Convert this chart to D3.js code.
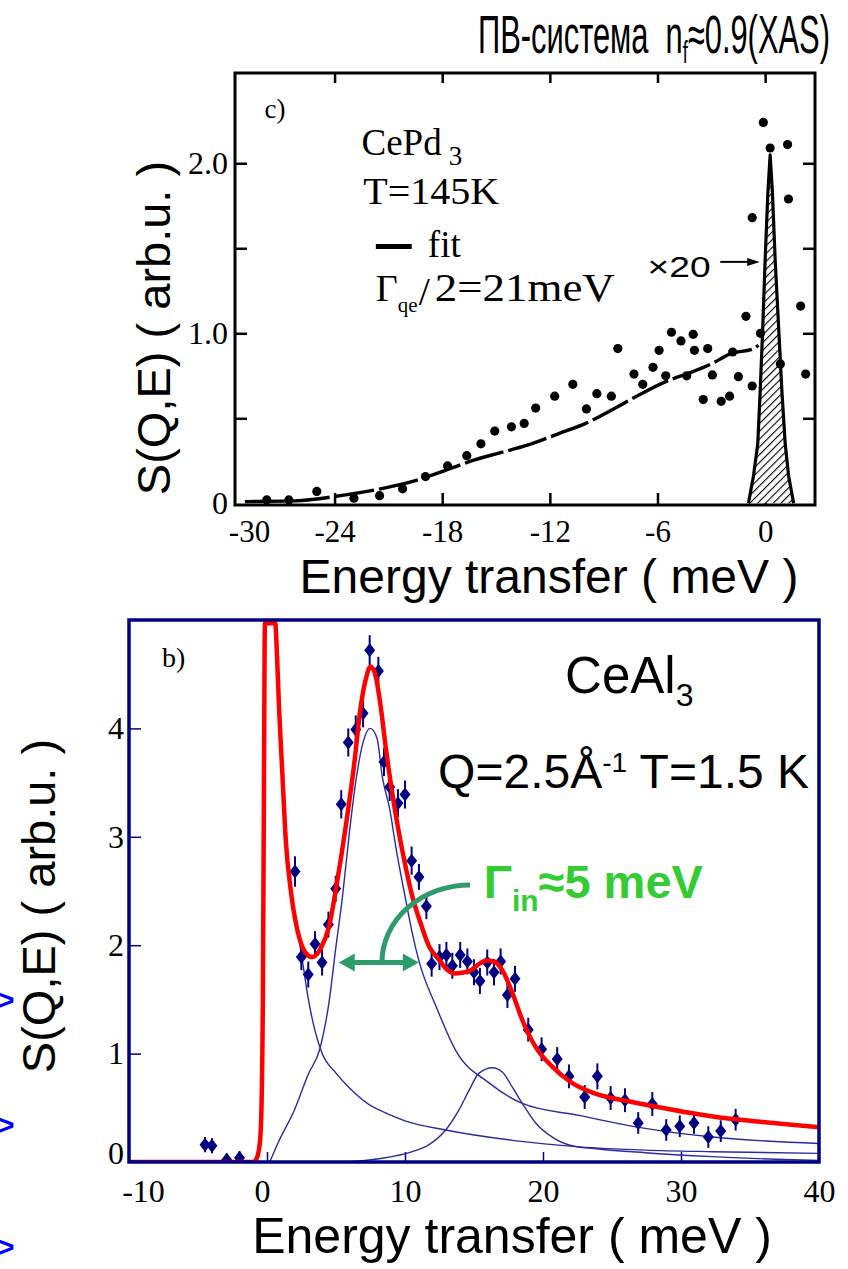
<!DOCTYPE html>
<html><head><meta charset="utf-8">
<script src="https://cdn.jsdelivr.net/npm/d3@7"></script>
<style>body{margin:0;background:#fff}svg{display:block}</style>
</head><body>
<svg id="c" width="848" height="1269"></svg>
<script>
// ---------- Panel c) CePd3 ----------
const cXTicks = [-30,-24,-18,-12,-6,0];
const cYTicks = [0.5,1.0,1.5,2.0];
const cYLabels = [0,1.0,2.0];
const cDotsE = [-27.78,-26.55,-24.99,-22.92,-21.49,-20.21,-18.93,-17.70,-16.63,-15.84,-15.07,-14.14,-13.43,-12.79,-11.73,-10.72,-9.96,-9.38,-8.57,-8.21,-7.31,-6.82,-6.25,-5.91,-5.54,-5.22,-4.69,-4.37,-4.01,-3.94,-3.45,-3.20,-2.94,-2.45,-1.98,-1.81,-1.49,-1.07,-0.72,-0.72,-0.26,-0.1,0.28,0.85,1.25,1.3,1.98,2.26];
const cDotsS = [0.02,0.02,0.07,0.03,0.045,0.085,0.157,0.22,0.28,0.35,0.425,0.45,0.47,0.56,0.63,0.70,0.555,0.645,0.63,0.91,0.76,0.70,0.80,0.90,0.75,1.006,0.955,0.75,0.994,0.90,0.61,0.91,0.755,0.60,0.63,0.89,0.745,1.10,0.69,1.68,1.0,2.24,2.09,0.82,2.11,1.79,1.16,0.76];
const cFitE = [-29.0,-26.2,-23.67,-21.3,-19.8,-18.3,-16.2,-14.9,-13.2,-11.5,-10.0,-8.53,-7.04,-5.33,-4.26,-2.99,-1.92,-0.64,-0.37];
const cFitS = [0.01,0.014,0.045,0.088,0.124,0.176,0.255,0.294,0.343,0.41,0.47,0.55,0.637,0.725,0.765,0.82,0.88,0.91,0.93];
const cElasticE = [-0.93,-0.65,-0.41,-0.28,-0.13,0.0,0.15,0.28,0.41,0.56,0.75,0.94,1.12,1.31,1.59];
const cElasticS = [0.0,0.16,0.35,0.65,1.04,1.43,1.82,2.05,1.82,1.43,1.04,0.65,0.35,0.16,0.0];

// ---------- Panel b) CeAl3 ----------
const bXTicks = [-10,0,10,20,30,40];
const bYTicks = [1,2,3,4];
const bYLabels = [0,1,2,3,4];
const bDataE = [-4.49,-3.99,-2.92,-1.99,2.03,2.49,2.99,3.48,3.99,4.45,4.98,5.38,5.89,6.43,6.96,7.44,8.07,8.48,8.89,9.49,10.0,10.48,11.01,11.55,11.93,12.5,13.0,13.43,14.0,14.52,15.0,15.43,15.96,16.45,16.93,17.42,17.97,18.93,19.9,21.03,21.88,23.02,23.94,24.9,25.94,26.9,27.92,28.93,29.91,30.94,31.98,32.88,33.96];
const bDataS = [0.16,0.15,0.02,0.04,2.68,1.89,1.73,2.01,1.84,2.19,2.52,3.30,3.87,3.99,4.14,4.72,4.53,3.69,3.46,3.31,3.39,2.78,2.63,2.36,1.83,1.89,1.91,1.81,1.91,1.85,1.75,1.67,1.84,1.75,1.85,1.54,1.69,1.22,1.04,0.95,0.79,0.60,0.79,0.59,0.57,0.36,0.535,0.295,0.33,0.36,0.23,0.285,0.39];
const bDataErr = [0.07,0.07,0.06,0.06,0.14,0.12,0.12,0.12,0.12,0.12,0.12,0.13,0.13,0.13,0.13,0.14,0.13,0.13,0.13,0.13,0.13,0.13,0.12,0.12,0.12,0.12,0.12,0.12,0.12,0.12,0.12,0.12,0.12,0.12,0.12,0.12,0.12,0.11,0.11,0.11,0.11,0.11,0.12,0.11,0.11,0.1,0.11,0.1,0.1,0.1,0.1,0.1,0.1];
const bFitE = [-10,-1.0,-0.8,-0.6,-0.45,-0.3,-0.22,-0.15,0.6,0.7,0.87,1.11,1.36,1.72,2.2,2.8,3.28,3.89,4.49,5.1,5.7,6.3,6.79,7.15,7.51,7.88,8.24,8.6,9.08,9.57,10.05,10.53,11.14,11.74,12.46,13.0,13.67,14.64,15.4,15.85,16.45,17.05,17.78,18.5,19.47,20.67,22.1,23.8,26.2,28.6,32.3,35.9,40];
const bFitS = [0,0,0.02,0.1,0.3,1.5,3.5,4.97,4.97,4.75,4.2,3.59,2.97,2.51,2.14,1.93,1.89,1.97,2.17,2.6,3.09,3.65,4.2,4.45,4.57,4.48,4.2,3.83,3.4,3.03,2.72,2.45,2.2,1.99,1.87,1.78,1.74,1.76,1.83,1.86,1.85,1.77,1.56,1.31,1.06,0.88,0.73,0.63,0.56,0.50,0.42,0.37,0.32];
const bQuasiE = [0.62,0.7,0.87,1.11,1.36,1.72,2.0,2.32,2.56,3.0,3.5,4.0,5.0,6.0,7.64,8.12,10.0,12.95,17.78,22.6,27.4,32.3,40];
const bQuasiS = [4.97,4.72,4.18,3.57,2.95,2.49,2.3,2.05,1.86,1.5,1.2,1.0,0.82,0.68,0.51,0.48,0.38,0.295,0.20,0.14,0.11,0.095,0.08];
const bInel1E = [0.2,0.83,1.99,2.99,3.82,4.49,4.98,5.48,5.98,6.48,6.98,7.48,7.97,8.36,8.9,9.33,10.05,10.53,11.0,12.3,13.67,16.09,18.5,22.6,27.4,32.3,40];
const bInel1S = [0.0,0.185,0.48,0.81,1.04,1.47,1.97,2.46,3.05,3.55,3.88,4.0,3.91,3.55,3.25,2.91,2.42,2.11,1.86,1.42,1.03,0.73,0.54,0.43,0.31,0.23,0.17];
const bInel2E = [5.65,8.12,10.53,11.74,12.95,13.91,14.64,15.36,16.33,17.05,17.78,18.5,19.47,20.67,22.1,24.0,27.4,32.3,36.9,40];
const bInel2S = [0.0,0.03,0.095,0.16,0.295,0.48,0.66,0.82,0.87,0.83,0.69,0.54,0.36,0.23,0.15,0.12,0.086,0.05,0.025,0.015];

const SERIF = "'Liberation Serif','Times New Roman',serif";
const SANS = "'Liberation Sans',Arial,sans-serif";
const NAVY = "#000080";

const svg = d3.select("#c");
const defs = svg.append("defs");
const pat = defs.append("pattern").attr("id","hatch").attr("patternUnits","userSpaceOnUse")
  .attr("width",5.5).attr("height",5.5).attr("patternTransform","rotate(45)");
pat.append("rect").attr("width",5.5).attr("height",5.5).attr("fill","#fff");
pat.append("line").attr("x1",0).attr("y1",0).attr("x2",0).attr("y2",5.5).attr("stroke","#000").attr("stroke-width",2.2);

function fitWidth(gSel, textSel, x, y, w){
  const len = textSel.node().getComputedTextLength();
  gSel.attr("transform",`translate(${x},${y}) scale(${w/len},1)`);
}

// ================= TOP PANEL =================
const xc = d3.scaleLinear().domain([-29.55,2.78]).range([235,815]);
const yc = d3.scaleLinear().domain([-0.01,2.531]).range([505,73]);
defs.append("clipPath").attr("id","clipC").append("rect")
  .attr("x",xc.range()[0]).attr("y",yc.range()[1]).attr("width",xc.range()[1]-xc.range()[0]).attr("height",yc.range()[0]-yc.range()[1]);
const gC = svg.append("g");

function styleAxis(g, color, fs, family, sw){
  g.select(".domain").remove();
  g.selectAll(".tick line").attr("stroke",color).attr("stroke-width",sw);
  g.selectAll("text").attr("fill","#000").style("font-size",fs+"px").style("font-family",family);
}
const cAxB = gC.append("g").attr("transform",`translate(0,${yc.range()[0]})`)
  .call(d3.axisBottom(xc).tickValues(cXTicks).tickSize(-12).tickPadding(15).tickFormat(d=>String(d)));
styleAxis(cAxB,"#000",31,SERIF,2.5);
cAxB.selectAll(".tick").filter(d=>xc(d)<xc.range()[0]).each(function(d){
  d3.select(this).select("line").remove();
  d3.select(this).select("text").attr("x", xc.range()[0]+14-xc(d));
});
const cAxT = gC.append("g").attr("transform",`translate(0,${yc.range()[1]})`)
  .call(d3.axisTop(xc).tickValues(cXTicks.filter(v=>v>=xc.domain()[0])).tickSize(-10).tickFormat(""));
styleAxis(cAxT,"#000",10,SERIF,2.5);
const cAxL = gC.append("g").attr("transform",`translate(${xc.range()[0]},0)`)
  .call(d3.axisLeft(yc).tickValues(cYTicks).tickSize(-12).tickFormat(""));
styleAxis(cAxL,"#000",10,SERIF,2.5);
const cAxLl = gC.append("g").attr("transform",`translate(${xc.range()[0]},0)`)
  .call(d3.axisLeft(yc).tickValues(cYLabels).tickSize(0).tickPadding(7).tickFormat(d=>d===0?"0":d.toFixed(1)));
styleAxis(cAxLl,"#000",32,SERIF,0);
const cAxR = gC.append("g").attr("transform",`translate(${xc.range()[1]},0)`)
  .call(d3.axisRight(yc).tickValues(cYTicks).tickSize(-12).tickFormat(""));
styleAxis(cAxR,"#000",10,SERIF,2.5);

const gCplot = gC.append("g").attr("clip-path","url(#clipC)");
const elPts = cElasticE.map((e,i)=>[e,cElasticS[i]]);
gCplot.append("path").datum(elPts)
  .attr("d", d3.line().x(d=>xc(d[0])).y(d=>yc(d[1])).curve(d3.curveLinear))
  .attr("fill","url(#hatch)").attr("stroke","#000").attr("stroke-width",3.2).attr("stroke-linejoin","round");
const cFit = cFitE.map((e,i)=>[e,cFitS[i]]);
gCplot.append("path").datum(cFit)
  .attr("d", d3.line().x(d=>xc(d[0])).y(d=>yc(d[1])).curve(d3.curveMonotoneX))
  .attr("fill","none").attr("stroke","#000").attr("stroke-width",3.4).attr("stroke-dasharray","40 5");
gCplot.selectAll("circle.dot").data(cDotsE.map((e,i)=>[e,cDotsS[i]])).enter().append("circle")
  .attr("cx",d=>xc(d[0])).attr("cy",d=>yc(d[1])).attr("r",4.6).attr("fill","#000");
gC.append("rect").attr("x",xc.range()[0]).attr("y",yc.range()[1])
  .attr("width",xc.range()[1]-xc.range()[0]).attr("height",yc.range()[0]-yc.range()[1])
  .attr("fill","none").attr("stroke","#000").attr("stroke-width",3);

// annotations c
gC.append("text").attr("x",xc(-27.9)).attr("y",yc(2.265)).text("c)")
  .style("font-family",SERIF).style("font-size","27px");
const ceP = gC.append("text").attr("x",xc(-22.5)).attr("y",yc(2.05)).style("font-family",SERIF).style("font-size","37px");
ceP.append("tspan").text("CePd");
ceP.append("tspan").attr("dx",7).attr("dy",10).style("font-size","27px").text("3");
gC.append("text").attr("x",xc(-22.4)).attr("y",yc(1.76)).attr("textLength",136).attr("lengthAdjust","spacingAndGlyphs")
  .style("font-family",SERIF).style("font-size","38px").text("T=145K");
gC.append("line").attr("x1",xc(-21.7)).attr("x2",xc(-19.7)).attr("y1",yc(1.51)).attr("y2",yc(1.51))
  .attr("stroke","#000").attr("stroke-width",5);
gC.append("text").attr("x",xc(-18.8)).attr("y",yc(1.45)).style("font-family",SERIF).style("font-size","37px").text("fit");
const gamX = xc(-21.7), gamY = yc(1.19);
gC.append("text").attr("x",gamX).attr("y",gamY).style("font-family",SERIF).style("font-size","38px").text("Γ");
gC.append("text").attr("x",gamX+22).attr("y",gamY+11).style("font-family",SERIF).style("font-size","21px").text("qe");
gC.append("text").attr("x",gamX+43).attr("y",gamY+4).style("font-family",SERIF).style("font-size","40px").text("/");
const g21 = gC.append("g");
const t21 = g21.append("text").attr("x",0).attr("y",0).style("font-family",SERIF).style("font-size","40px").text("2=21meV");
fitWidth(g21, t21, gamX+59, gamY, 180);
const gx20 = gC.append("g");
const tx20 = gx20.append("text").style("font-family",SANS).style("font-size","30px").text("×20");
fitWidth(gx20, tx20, xc(-6.55), yc(1.33), 63);
gC.append("line").attr("x1",xc(-2.5)).attr("x2",xc(-0.75)).attr("y1",yc(1.42)).attr("y2",yc(1.42))
  .attr("stroke","#000").attr("stroke-width",2);
gC.append("path").attr("d",`M${xc(-0.3)},${yc(1.42)} L${xc(-1.0)},${yc(1.42)-4} L${xc(-1.0)},${yc(1.42)+4} Z`).attr("fill","#000");

// titles top
const gTitle = svg.append("g");
const tTitle = gTitle.append("text").style("font-family",SANS).style("font-size","53px");
tTitle.append("tspan").text("ПВ-система\u00a0\u00a0n");
tTitle.append("tspan").attr("dy",10).style("font-size","31px").text("f");
tTitle.append("tspan").attr("dy",-10).text("≈0.9(XAS)");
{
  const w = tTitle.node().getBBox().width;
  gTitle.attr("transform",`translate(478,53) scale(${352/w},1)`);
}
svg.append("text").attr("x",549).attr("y",593).attr("text-anchor","middle")
  .style("font-family",SANS).style("font-size","48px").text("Energy transfer ( meV )");
svg.append("text").attr("transform","translate(170,328) rotate(-90)").attr("text-anchor","middle")
  .style("font-family",SANS).style("font-size","47px").text("S(Q,E) ( arb.u. )");

// ================= BOTTOM PANEL =================
const xb = d3.scaleLinear().domain([-10,40]).range([129,819]);
const yb = d3.scaleLinear().domain([0,5]).range([1162,620]);
defs.append("clipPath").attr("id","clipB").append("rect")
  .attr("x",129).attr("y",620).attr("width",690).attr("height",542);
const gB = svg.append("g");
const bAxB = gB.append("g").attr("transform",`translate(0,${yb.range()[0]})`)
  .call(d3.axisBottom(xb).tickValues(bXTicks).tickSize(-10).tickPadding(17).tickFormat(d=>String(d)));
styleAxis(bAxB,NAVY,32,SERIF,1.5);
bAxB.selectAll(".tick").filter(d=>d===bXTicks[0]||d===bXTicks[bXTicks.length-1]).select("line").remove();
bAxB.selectAll(".tick").filter(d=>d===bXTicks[0]).select("text").attr("x",14);
bAxB.selectAll(".tick").filter(d=>d===0).select("text").attr("x",-5);
const bAxL = gB.append("g").attr("transform",`translate(${xb.range()[0]},0)`)
  .call(d3.axisLeft(yb).tickValues(bYTicks).tickSize(-12).tickFormat(""));
styleAxis(bAxL,NAVY,10,SERIF,1.5);
const bAxLl = gB.append("g").attr("transform",`translate(${xb.range()[0]},0)`)
  .call(d3.axisLeft(yb).tickValues(bYLabels).tickSize(0).tickPadding(5).tickFormat(d=>String(d)));
styleAxis(bAxLl,NAVY,32,SERIF,0);
bAxLl.selectAll(".tick").filter(d=>d===0).select("text").attr("dy","0.05em");

const gBplot = gB.append("g").attr("clip-path","url(#clipB)");
const lineB = d3.line().x(d=>xb(d[0])).y(d=>yb(d[1])).curve(d3.curveMonotoneX);
[[bQuasiE,bQuasiS],[bInel1E,bInel1S],[bInel2E,bInel2S]].forEach(([E,S])=>{
  gBplot.append("path").datum(E.map((e,i)=>[e,S[i]])).attr("d",lineB)
    .attr("fill","none").attr("stroke","#2b2ba0").attr("stroke-width",1.4);
});
const pts = bDataE.map((e,i)=>({e, s:bDataS[i], err:bDataErr[i]}));
gBplot.selectAll("line.err").data(pts).enter().append("line")
  .attr("x1",d=>xb(d.e)).attr("x2",d=>xb(d.e)).attr("y1",d=>yb(d.s-d.err)).attr("y2",d=>yb(d.s+d.err))
  .attr("stroke",NAVY).attr("stroke-width",2);
gBplot.selectAll("path.pt").data(pts).enter().append("path")
  .attr("transform",d=>`translate(${xb(d.e)},${yb(d.s)})`)
  .attr("d","M0,-7L5.5,0L0,7L-5.5,0Z").attr("fill",NAVY);
gBplot.append("path").datum(bFitE.map((e,i)=>[e,bFitS[i]])).attr("d",lineB)
  .attr("fill","none").attr("stroke","#ff0000").attr("stroke-width",4.5).attr("stroke-linejoin","round");
gB.append("rect").attr("x",129).attr("y",620).attr("width",690).attr("height",542)
  .attr("fill","none").attr("stroke",NAVY).attr("stroke-width",3.5);

// annotations b
gB.append("text").attr("x",xb(-7.6)).attr("y",yb(4.57)).style("font-family",SERIF).style("font-size","28px").text("b)");
const ceA = gB.append("text").attr("x",xb(21.6)).attr("y",yb(4.33)).style("font-family",SANS).style("font-size","51px");
ceA.append("tspan").text("CeAl");
ceA.append("tspan").attr("dy",13).style("font-size","32px").text("3");
const qT = gB.append("text").attr("x",xb(12.4)).attr("y",yb(3.45)).style("font-family",SANS).style("font-size","48px");
qT.append("tspan").text("Q=2.5Å");
qT.append("tspan").attr("dy",-16).style("font-size","28px").text("-1");
qT.append("tspan").attr("dy",16).text(" T=1.5 K");
const gT = gB.append("text").attr("x",xb(15.7)).attr("y",yb(2.44)).style("font-family",SANS).style("font-size","47px")
  .style("font-weight","bold").attr("fill","#33cc33");
gT.append("tspan").text("Γ");
gT.append("tspan").attr("dy",13).style("font-size","30px").text("in");
gT.append("tspan").attr("dy",-13).text("≈5 meV");

const GA = "#2e9b6a";
const ay = yb(1.84), ax1 = xb(5.2), ax2 = xb(11.0);
gB.append("line").attr("x1",ax1+10).attr("x2",ax2-10).attr("y1",ay).attr("y2",ay).attr("stroke",GA).attr("stroke-width",5);
gB.append("path").attr("d",`M${ax1},${ay} L${ax1+16},${ay-9} L${ax1+16},${ay+9} Z`).attr("fill",GA);
gB.append("path").attr("d",`M${ax2},${ay} L${ax2-16},${ay-9} L${ax2-16},${ay+9} Z`).attr("fill",GA);
const arcX0 = xb(8.33), arcX1 = xb(14.71), arcY1 = yb(2.555);
gB.append("path").attr("d",`M${arcX0},${ay} A${arcX1-arcX0},${ay-arcY1} 0 0 1 ${arcX1},${arcY1}`)
  .attr("fill","none").attr("stroke",GA).attr("stroke-width",5);

// titles bottom
svg.append("text").attr("x",512).attr("y",1253).attr("text-anchor","middle")
  .style("font-family",SANS).style("font-size","50px").text("Energy transfer ( meV )");
svg.append("text").attr("transform","translate(55,906) rotate(-90)").attr("text-anchor","middle")
  .style("font-family",SANS).style("font-size","47px").text("S(Q,E) ( arb.u. )");

[1010,1135,1257].forEach(y=>{
  svg.append("text").attr("x",-3).attr("y",y).style("font-family",SANS).style("font-size","30px")
    .style("font-weight","bold").attr("fill","#0000ff").text(">");
});
</script>
</body></html>
